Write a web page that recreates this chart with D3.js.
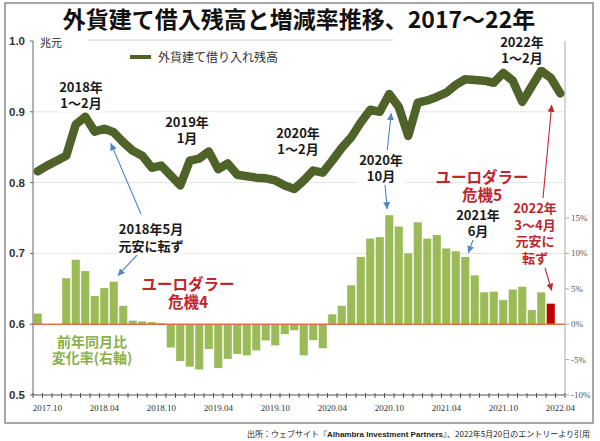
<!DOCTYPE html>
<html>
<head>
<meta charset="utf-8">
<script src="https://cdn.jsdelivr.net/npm/d3@7"></script>
<style>
  body { margin: 0; background: #fff; }
  text { font-family: 'Noto Sans CJK JP', 'Noto Sans', sans-serif; }
</style>
</head>
<body>
<svg id="chart" width="600" height="441"></svg>
<script>
// months (categories), 2017.09 - 2022.04
const months = [
  "2017.09", "2017.10", "2017.11", "2017.12",
  "2018.01", "2018.02", "2018.03", "2018.04", "2018.05", "2018.06", "2018.07", "2018.08", "2018.09", "2018.10", "2018.11", "2018.12",
  "2019.01", "2019.02", "2019.03", "2019.04", "2019.05", "2019.06", "2019.07", "2019.08", "2019.09", "2019.10", "2019.11", "2019.12",
  "2020.01", "2020.02", "2020.03", "2020.04", "2020.05", "2020.06", "2020.07", "2020.08", "2020.09", "2020.10", "2020.11", "2020.12",
  "2021.01", "2021.02", "2021.03", "2021.04", "2021.05", "2021.06", "2021.07", "2021.08", "2021.09", "2021.10", "2021.11", "2021.12",
  "2022.01", "2022.02", "2022.03", "2022.04"
];

// foreign currency borrowing balance (trillion yuan, left axis)
const balance = [
  0.816, 0.824, 0.831, 0.838,
  0.882, 0.893, 0.872, 0.876, 0.871, 0.857, 0.845, 0.838, 0.821, 0.824, 0.810, 0.796,
  0.831, 0.834, 0.844, 0.819, 0.827, 0.811, 0.809, 0.807, 0.806, 0.803, 0.796, 0.791,
  0.803, 0.817, 0.814, 0.831, 0.849, 0.864, 0.885, 0.903, 0.900, 0.925, 0.907, 0.866,
  0.913, 0.916, 0.921, 0.927, 0.938, 0.946, 0.945, 0.944, 0.941, 0.955, 0.944, 0.914,
  0.936, 0.958, 0.948, 0.926
];

// year-on-year change (%, right axis); null = no bar
const yoy = [
  1.5, null, null, 6.5,
  9.1, 7.5, 4.0, 5.1, 6.0, 2.6, 0.5, 0.4, 0.3, 0.15, -3.3, -5.2,
  -6.0, -6.4, -3.5, -6.2, -4.9, -4.2, -4.4, -3.7, -2.3, -3.0, -1.4, -0.85,
  -4.4, -2.25, -3.4, 1.4, 2.6, 5.5, 9.5, 12.1, 12.3, 15.4, 13.8, 10.0,
  14.4, 12.1, 12.6, 10.7, 10.3, 9.5, 6.9, 4.5, 4.6, 3.4, 4.9, 5.3,
  2.0, 4.5, 2.9, null
];
const redMonths = ["2022.03"];

const xTickLabels = ["2017.10", "2018.04", "2018.10", "2019.04", "2019.10", "2020.04", "2020.10", "2021.04", "2021.10", "2022.04"];
const leftTicks = [0.5, 0.6, 0.7, 0.8, 0.9, 1.0];
const gridTicks = [0.7, 0.8, 0.9];
const rightTicks = [-10, -5, 0, 5, 10, 15];

const svg = d3.select("#chart");
const L = 33, R = 565, T = 41, B = 395;

const x = d3.scaleBand().domain(months).range([L, R]).padding(0);
const bw = x.bandwidth();
const yL = d3.scaleLinear().domain([0.5, 1.0]).range([B, T]);
const yR = d3.scaleLinear().domain([-10, 40]).range([B, T]);

// outer frame
svg.append("rect").attr("x", 5).attr("y", 3).attr("width", 588).attr("height", 420)
  .attr("fill", "none").attr("stroke", "#8a8a8a").attr("stroke-width", 1.5);

// title
svg.append("text").attr("x", 299).attr("y", 28).attr("text-anchor", "middle")
  .style("font-size", "23px").style("font-weight", "bold").attr("fill", "#111")
  .text("外貨建て借入残高と増減率推移、2017～22年");

// gridlines
svg.append("g").selectAll("line").data(gridTicks).join("line")
  .attr("x1", L).attr("x2", R).attr("y1", d => yL(d)).attr("y2", d => yL(d))
  .attr("stroke", "#e4e4e4").attr("stroke-width", 1);

// bars
const barData = months.map((m, i) => ({ m: m, v: yoy[i] })).filter(d => d.v !== null);
svg.append("g").selectAll("rect").data(barData).join("rect")
  .attr("x", d => x(d.m) + 0.7)
  .attr("width", bw - 1.4)
  .attr("y", d => Math.min(yR(d.v), yR(0)))
  .attr("height", d => Math.abs(yR(d.v) - yR(0)))
  .attr("fill", d => redMonths.includes(d.m) ? "#c00000" : "#9bbb59");

// zero line
svg.append("line").attr("x1", L).attr("x2", R).attr("y1", yR(0)).attr("y2", yR(0))
  .attr("stroke", "#e0704a").attr("stroke-width", 1.5);

// axes lines
svg.append("line").attr("x1", L).attr("x2", L).attr("y1", T).attr("y2", B)
  .attr("stroke", "#666").attr("stroke-width", 1);
svg.append("line").attr("x1", R).attr("x2", R).attr("y1", T).attr("y2", B)
  .attr("stroke", "#aaa").attr("stroke-width", 1);
svg.append("line").attr("x1", L).attr("x2", R).attr("y1", B).attr("y2", B)
  .attr("stroke", "#555").attr("stroke-width", 1);

// x ticks at band edges
svg.append("g").selectAll("line").data(months.concat(["end"])).join("line")
  .attr("x1", (d, i) => L + i * bw).attr("x2", (d, i) => L + i * bw)
  .attr("y1", B - 2).attr("y2", B + 3)
  .attr("stroke", "#555").attr("stroke-width", 1);

svg.append("g").selectAll("text").data(xTickLabels).join("text")
  .attr("x", d => x(d) + bw / 2).attr("y", 411).attr("text-anchor", "middle")
  .style("font-family", "'Liberation Serif', serif").style("font-size", "9px")
  .attr("fill", "#333").text(d => d);

// left axis labels
svg.append("g").selectAll("text").data(leftTicks).join("text")
  .attr("x", 25).attr("y", d => yL(d) + 4).attr("text-anchor", "end")
  .style("font-family", "'Liberation Sans', Arial, sans-serif")
  .style("font-size", "11.5px").style("font-weight", "bold").attr("fill", "#333")
  .text(d => d.toFixed(1));
svg.append("g").selectAll("line").data(leftTicks).join("line")
  .attr("x1", L - 3).attr("x2", L).attr("y1", d => yL(d)).attr("y2", d => yL(d))
  .attr("stroke", "#666");

svg.append("text").attr("x", 40).attr("y", 47)
  .style("font-size", "11px").attr("fill", "#222").text("兆元");

// right axis
svg.append("g").selectAll("line").data(rightTicks).join("line")
  .attr("x1", R).attr("x2", R + 4).attr("y1", d => yR(d)).attr("y2", d => yR(d))
  .attr("stroke", "#aaa");
svg.append("g").selectAll("text").data(rightTicks).join("text")
  .attr("x", R + 6).attr("y", d => yR(d) + 3)
  .style("font-family", "'Liberation Serif', serif").style("font-size", "9px")
  .attr("fill", "#555").text(d => d + "%");

// balance line
const line = d3.line()
  .x((d, i) => x(months[i]) + bw / 2)
  .y(d => yL(d));
svg.append("path").datum(balance).attr("d", line)
  .attr("fill", "none").attr("stroke", "#4f6228").attr("stroke-width", 8.5)
  .attr("stroke-linejoin", "round").attr("stroke-linecap", "round");

// legend
svg.append("line").attr("x1", 88).attr("x2", 393).attr("y1", 40).attr("y2", 40)
  .attr("stroke", "#d0d0d0").attr("stroke-width", 1);
svg.append("line").attr("x1", 130).attr("x2", 151).attr("y1", 57).attr("y2", 57)
  .attr("stroke", "#4f6228").attr("stroke-width", 4);
svg.append("text").attr("x", 158).attr("y", 62)
  .style("font-size", "12px").attr("fill", "#333").text("外貨建て借り入れ残高");

// arrows
const defs = svg.append("defs");
[["arrowBlue", "#4f86c6"], ["arrowRed", "#c0272d"]].forEach(function (a) {
  defs.append("marker").attr("id", a[0]).attr("viewBox", "0 0 10 10")
    .attr("refX", 10).attr("refY", 5).attr("markerWidth", 7).attr("markerHeight", 7)
    .attr("markerUnits", "userSpaceOnUse").attr("orient", "auto")
    .append("path").attr("d", "M0,0 L10,5 L0,10 z").attr("fill", a[1]);
});

function cx(m) { return x(m) + bw / 2; }
function bal(m) { return yL(balance[months.indexOf(m)]); }
function bar(m) { return yR(yoy[months.indexOf(m)]); }

const arrows = [
  { from: [141, 214], to: [cx("2018.05") - 3, bal("2018.05") + 11], c: "arrowBlue", s: "#4f86c6" },
  { from: [138, 254], to: [cx("2018.05") + 4, bar("2018.05") - 6], c: "arrowBlue", s: "#4f86c6" },
  { from: [387, 152], to: [cx("2020.10") + 2, bal("2020.10") + 19], c: "arrowBlue", s: "#4f86c6" },
  { from: [385, 185], to: [cx("2020.10") - 2, bar("2020.10") - 6], c: "arrowBlue", s: "#4f86c6" },
  { from: [473, 240], to: [cx("2021.06") + 3, bar("2021.06") - 4], c: "arrowBlue", s: "#4f86c6" },
  { from: [543, 198], to: [cx("2022.03") + 1, bal("2022.03") + 27], c: "arrowRed", s: "#c0272d" },
  { from: [545, 268], to: [cx("2022.03") + 1, bar("2022.03") - 13], c: "arrowRed", s: "#c0272d" }
];
svg.append("g").selectAll("line").data(arrows).join("line")
  .attr("x1", d => d.from[0]).attr("y1", d => d.from[1])
  .attr("x2", d => d.to[0]).attr("y2", d => d.to[1])
  .attr("stroke", d => d.s).attr("stroke-width", 1.1)
  .attr("marker-end", d => "url(#" + d.c + ")");

// annotations (one text element per note, lines as tspans)
const notes = [
  { x: 81, y: 92, lh: 16, t: ["2018年", "1～2月"], c: "#1a1a1a", s: 13, bg: true },
  { x: 187, y: 127, lh: 16, t: ["2019年", "1月"], c: "#1a1a1a", s: 13, bg: true },
  { x: 298, y: 138, lh: 16, t: ["2020年", "1～2月"], c: "#1a1a1a", s: 13, bg: true },
  { x: 381, y: 165, lh: 16, t: ["2020年", "10月"], c: "#1a1a1a", s: 13, bg: true },
  { x: 151, y: 234, lh: 17, t: ["2018年5月", "元安に転ず"], c: "#1a1a1a", s: 13, bg: true },
  { x: 478, y: 220, lh: 16, t: ["2021年", "6月"], c: "#1a1a1a", s: 13, bg: true },
  { x: 522, y: 47, lh: 16, t: ["2022年", "1～2月"], c: "#1a1a1a", s: 13, bg: true },
  { x: 188, y: 290, lh: 18, t: ["ユーロダラー", "危機4"], c: "#c0272d", s: 15.5, bg: false },
  { x: 482, y: 183, lh: 18, t: ["ユーロダラー", "危機5"], c: "#c0272d", s: 15.5, bg: false },
  { x: 535, y: 213, lh: 16.7, t: ["2022年", "3～4月", "元安に", "転ず"], c: "#c0272d", s: 13, bg: false },
  { x: 92, y: 347, lh: 16, t: ["前年同月比", "変化率(右軸)"], c: "#8ab04a", s: 14, bg: false }
];
notes.forEach(function (n) {
  const g = svg.append("g");
  const bgRect = g.append("rect").attr("fill", "#fff");
  const txt = g.append("text").attr("text-anchor", "middle")
    .style("font-size", n.s + "px").style("font-weight", "bold").attr("fill", n.c);
  n.t.forEach(function (t, i) {
    txt.append("tspan").attr("x", n.x).attr("y", n.y + i * n.lh).text(t);
  });
  if (n.bg) {
    const bb = g.node().getBBox();
    bgRect.attr("x", bb.x - 2).attr("y", bb.y).attr("width", bb.width + 4).attr("height", bb.height);
  }
});

// source
const src = svg.append("text").attr("x", 590).attr("y", 437).attr("text-anchor", "end")
  .style("font-size", "8px").attr("fill", "#222");
src.append("tspan").text("出所：ウェブサイト『");
src.append("tspan").style("font-family", "'Liberation Sans', Arial, sans-serif")
  .style("font-weight", "bold").text("Alhambra Investment Partners");
src.append("tspan").text("』、2022年5月20日のエントリーより引用");
</script>
</body>
</html>
